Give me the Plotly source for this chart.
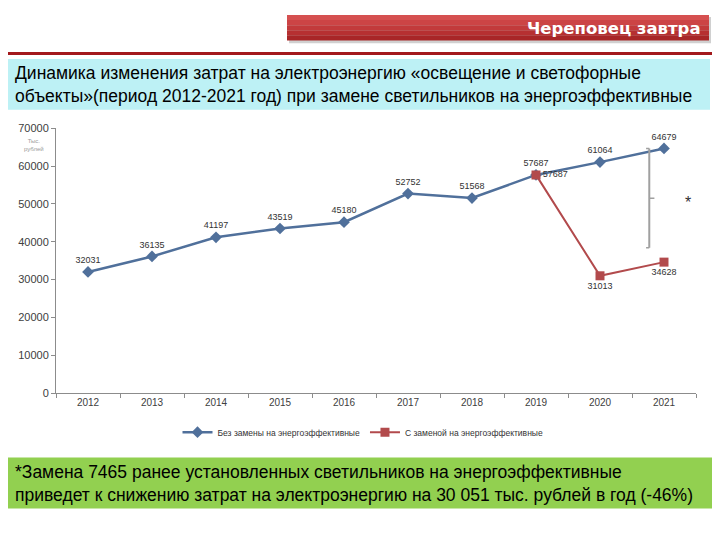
import plotly.graph_objects as go

years = ["2012", "2013", "2014", "2015", "2016", "2017", "2018", "2019", "2020", "2021"]
without_replacement = [32031, 36135, 41197, 43519, 45180, 52752, 51568, 57687, 61064, 64679]
with_years = ["2019", "2020", "2021"]
with_replacement = [57687, 31013, 34628]
y_ticks = [0, 10000, 20000, 30000, 40000, 50000, 60000, 70000]

series1_name = "Без замены на энергоэффективные"
series2_name = "С заменой на энергоэффективные"
header_text = "Череповец завтра"
title_text = ("Динамика изменения затрат на электроэнергию «освещение и светофорные<br>"
              "объекты»(период 2012-2021 год) при замене светильников на энергоэффективные")
note_text = ("*Замена 7465 ранее установленных светильников на энергоэффективные<br>"
             "приведет к снижению затрат на электроэнергию на 30 051 тыс. рублей в год (-46%)")
unit_text = "Тыс.<br>рублей"

# page has an 8px body margin, so the figure is 704x524 placed at (8, 8)
OFF = 8
W, H = 720 - 2 * OFF, 540 - 2 * OFF
def px(x):
    return (x - OFF) / W
def py(y):
    return 1 - (y - OFF) / H

BLUE = "#50709b"
RED = "#b24a4c"
FONT = "Liberation Sans, Arial, sans-serif"
LABEL_FONT = dict(family=FONT, size=9, color="#333333")

fig = go.Figure()
fig.add_trace(go.Scatter(
    x=years, y=without_replacement, name=series1_name,
    mode="lines+markers+text",
    line=dict(color=BLUE, width=2.5),
    marker=dict(symbol="diamond", size=9, color=BLUE),
    text=[str(v) for v in without_replacement],
    textposition="top center",
    textfont=LABEL_FONT,
))
fig.add_trace(go.Scatter(
    x=with_years, y=with_replacement, name=series2_name,
    mode="lines+markers+text",
    line=dict(color=RED, width=2),
    marker=dict(symbol="square", size=9, color=RED),
    text=[str(v) for v in with_replacement],
    textposition=["middle right", "bottom center", "bottom center"],
    textfont=LABEL_FONT,
))

shapes = []
# header banner shadow + approximate gradient
shapes.append(dict(type="rect", xref="paper", yref="paper", x0=px(289), x1=px(711), y0=py(38), y1=py(11),
                   fillcolor="rgba(120,120,120,0.35)", line_width=0, layer="below"))
banner_cols = ["#d55050", "#cc4445", "#c23a3b", "#b63031", "#a82627"]
top, bot = 9, 35
step = (bot - top) / len(banner_cols)
for i, c in enumerate(banner_cols):
    shapes.append(dict(type="rect", xref="paper", yref="paper", x0=px(287), x1=px(709),
                       y0=py(top + step * (i + 1)), y1=py(top + step * i),
                       fillcolor=c, line_width=0, layer="below"))
# dark red rule
shapes.append(dict(type="rect", xref="paper", yref="paper", x0=px(8), x1=px(712), y0=py(50), y1=py(47),
                   fillcolor="#a3191c", line_width=0, layer="below"))
# cyan title box
shapes.append(dict(type="rect", xref="paper", yref="paper", x0=px(8), x1=px(710), y0=py(106), y1=py(54),
                   fillcolor="#bdf1f5", line_width=0, layer="below"))
# green note box
shapes.append(dict(type="rect", xref="paper", yref="paper", x0=px(8), x1=px(712), y0=py(514), y1=py(462),
                   fillcolor="#92d050", line_width=0, layer="below"))
# bracket
bx = 8.77
shapes.append(dict(type="line", xref="x", yref="y", x0=bx, x1=bx, y0=without_replacement[-1], y1=38400,
                   line=dict(color="#a0a0a0", width=2)))
shapes.append(dict(type="line", xref="x", yref="y", x0=bx - 0.05, x1=bx, y0=without_replacement[-1],
                   y1=without_replacement[-1], line=dict(color="#a0a0a0", width=1.5)))
shapes.append(dict(type="line", xref="x", yref="y", x0=bx - 0.05, x1=bx, y0=38400, y1=38400,
                   line=dict(color="#a0a0a0", width=1.5)))
shapes.append(dict(type="line", xref="x", yref="y", x0=bx, x1=bx + 0.08, y0=51500, y1=51500,
                   line=dict(color="#a0a0a0", width=1.5)))

annotations = [
    dict(text="<b>" + header_text + "</b>", xref="paper", yref="paper", x=px(703), y=py(23),
         xanchor="right", yanchor="middle", showarrow=False,
         font=dict(family="DejaVu Sans, Verdana, sans-serif", size=16.5, color="white")),
    dict(text=title_text, xref="paper", yref="paper", x=px(13), y=py(80),
         xanchor="left", yanchor="middle", align="left", showarrow=False,
         font=dict(family=FONT, size=17.5, color="black")),
    dict(text=note_text, xref="paper", yref="paper", x=px(13), y=py(488),
         xanchor="left", yanchor="middle", align="left", showarrow=False,
         font=dict(family=FONT, size=17.5, color="black")),
    dict(text=unit_text, xref="paper", yref="paper", x=px(34), y=py(142),
         xanchor="center", yanchor="middle", align="center", showarrow=False,
         font=dict(family=FONT, size=6, color="#9a9a9a")),
    dict(text="*", xref="x", yref="y", x=9.38, y=50500, showarrow=False,
         font=dict(family=FONT, size=16, color="#333333")),
]

fig.update_layout(
    width=W, height=H,
    margin=dict(l=0, r=0, t=0, b=0),
    paper_bgcolor="white", plot_bgcolor="white",
    shapes=shapes, annotations=annotations,
    showlegend=True,
    legend=dict(orientation="h", x=px(363), y=py(436), xanchor="center", yanchor="middle",
                font=dict(family=FONT, size=8.5, color="#333333"),
                itemwidth=30, bgcolor="rgba(0,0,0,0)"),
    xaxis=dict(domain=[px(56), px(696)], type="category", range=[-0.5, len(years) - 0.5],
               showgrid=False, showline=True, linecolor="#8c8c8c", linewidth=1,
               ticks="outside", tickson="boundaries", ticklen=4, tickcolor="#8c8c8c",
               tickfont=dict(family=FONT, size=10, color="#404040")),
    yaxis=dict(domain=[py(396), py(125)], range=[0, 70000], tickvals=y_ticks,
               ticktext=[str(v) for v in y_ticks], showgrid=False, zeroline=False,
               showline=True, linecolor="#8c8c8c", linewidth=1,
               ticks="outside", ticklen=4, tickcolor="#8c8c8c",
               tickfont=dict(family=FONT, size=11, color="#404040")),
)

fig.write_html("out.html")
